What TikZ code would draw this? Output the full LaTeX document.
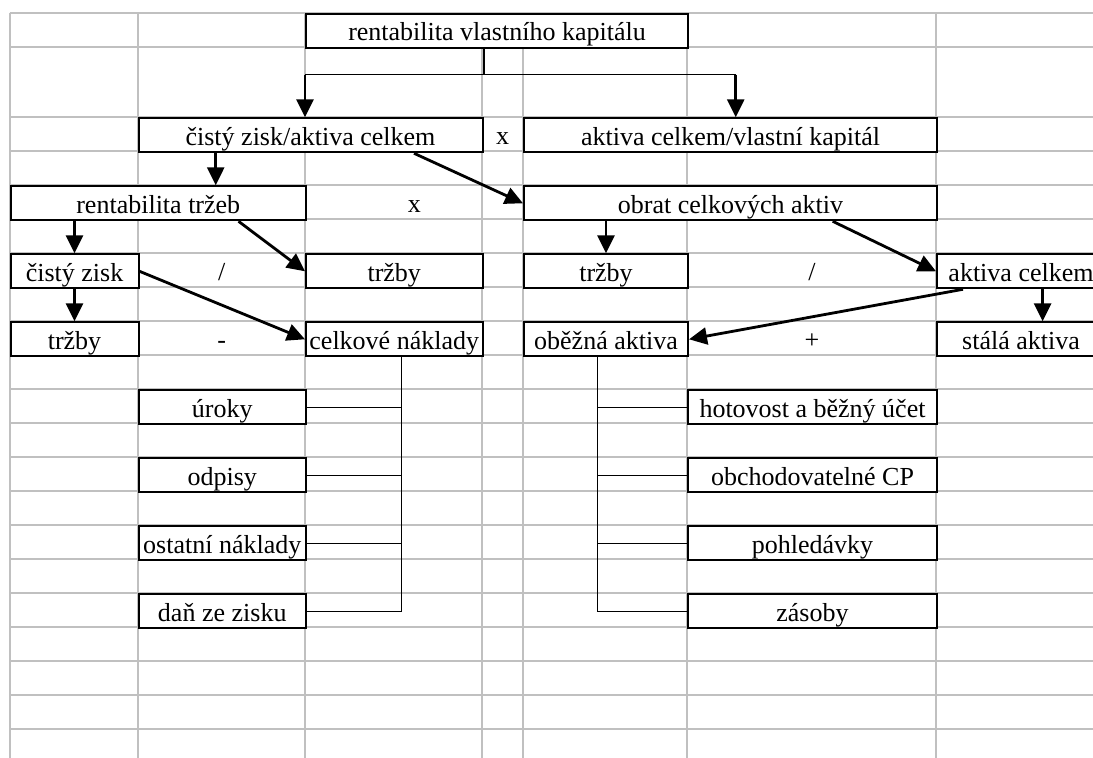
\documentclass[tikz,border=0pt]{standalone}
\usepackage{fontspec}
\setmainfont{Liberation Serif}
\usetikzlibrary{arrows.meta,calc}
\definecolor{gridgray}{HTML}{C0C0C0}
\tikzset{
  gridline/.style={draw=gridgray, line width=1pt},
  cellbox/.style={draw, fill=white, line width=1pt, anchor=north west, minimum height=17pt, inner sep=0pt, text height=10.3pt, text depth=0pt},
  op/.style={anchor=north west, minimum height=17pt, inner sep=0pt, text height=10.3pt, text depth=0pt},
  wd/.style={minimum width=#1*0.5pt},
  arr/.style={-{Triangle[length=9pt,width=8.5pt]}, line width=1.4pt},
  link/.style={line width=0.6pt}
}
\begin{document}
\begin{tikzpicture}[x=0.5pt,y=-0.5pt,font=\fontsize{13pt}{15pt}\selectfont]
    \useasboundingbox (0,0) rectangle (1093,758);
    \clip (0,0) rectangle (1093,758);
    \foreach \x in {9.5,137.5,305,481.5,523,687,936} \draw[gridline] (\x,12.7) -- (\x,758);
    \foreach \y in {12.7,46.7} \draw[gridline] (9.5,\y) -- (1093,\y);
    \foreach \k [evaluate=\k as \y using 117.3+34*\k] in {0,...,18} \draw[gridline] (9.5,\y) -- (1093,\y);
    \node[cellbox, wd=382] (roe) at (305,12.7) {rentabilita vlastního kapitálu};
    \node[cellbox, wd=344] (cza) at (137.5,117.3) {čistý zisk/aktiva celkem};
    \node[op, wd=41.5] (x1) at (481.5,117.3) {x};
    \node[cellbox, wd=413] (akvk) at (523,117.3) {aktiva celkem/vlastní kapitál};
    \node[cellbox, wd=295.5] (rt) at (9.5,185.3) {rentabilita tržeb};
    \node[op, wd=218] (x2) at (305,185.3) {x};
    \node[cellbox, wd=413] (oca) at (523,185.3) {obrat celkových aktiv};
    \node[cellbox, wd=128] (cz) at (9.5,253.3) {čistý zisk};
    \node[op, wd=167.5] (d1) at (137.5,253.3) {/};
    \node[cellbox, wd=176.5] (trz1) at (305,253.3) {tržby};
    \node[cellbox, wd=164] (trz2) at (523,253.3) {tržby};
    \node[op, wd=249] (d2) at (687,253.3) {/};
    \node[cellbox, wd=168] (ac) at (936,253.3) {aktiva celkem};
    \node[cellbox, wd=128] (trz3) at (9.5,321.3) {tržby};
    \node[op, wd=167.5] (minus) at (137.5,321.3) {-};
    \node[cellbox, wd=176.5] (cn) at (305,321.3) {celkové náklady};
    \node[cellbox, wd=164] (oa) at (523,321.3) {oběžná aktiva};
    \node[op, wd=249] (plus) at (687,321.3) {+};
    \node[cellbox, wd=168] (sa) at (936,321.3) {stálá aktiva};
    \foreach \n/\t [count=\i from 0, evaluate=\i as \y using 389.3+68*\i] in {ur/úroky,odp/odpisy,ost/ostatní náklady,dan/daň ze zisku}
      \node[cellbox, wd=167.5] (\n) at (137.5,\y) {\t};
    \foreach \n/\t [count=\i from 0, evaluate=\i as \y using 389.3+68*\i] in {hot/hotovost a běžný účet,obch/obchodovatelné CP,pohl/pohledávky,zas/zásoby}
      \node[cellbox, wd=249] (\n) at (687,\y) {\t};
    \coordinate (jn) at (484,74.7);
    \coordinate (jl) at (305,74.7);
    \coordinate (jr) at (735.7,74.7);
    \draw[link] (roe.south -| jn) -- (jn);
    \draw[link] (jl) -- (jr);
    \draw[arr] (jl) -- (cza.north -| jl);
    \draw[arr] (jr) -- (akvk.north -| jr);
    \draw[arr] ($(cza.south west)+(78.2,0)$) coordinate (a1) -- (a1 |- rt.north);
    \draw[arr] ($(cza.south west)+(276.5,0)$) -- (oca.west);
    \draw[arr] (rt.south -| cz.north) -- (cz.north);
    \draw[arr] ($(rt.south west)+(229,0)$) -- (trz1.west);
    \draw[arr] (oca.south -| trz2.north) -- (trz2.north);
    \draw[arr] ($(oca.south west)+(309.7,0)$) -- (ac.west);
    \draw[arr] (cz.south) -- (trz3.north);
    \draw[arr] (cz.east) -- (cn.west);
    \draw[arr] ($(ac.south west)+(106.6,0)$) coordinate (a2) -- (a2 |- sa.north);
    \draw[arr] ($(ac.south west)+(27,0)$) -- (oa.east);
    \coordinate (cnx) at ($(cn.south west)+(96.7,0)$);
    \draw[link] (cnx) |- (dan.east);
    \foreach \n in {ur,odp,ost} \draw[link] (\n.east) -- (\n.east -| cnx);
    \coordinate (oax) at ($(oa.south west)+(74.3,0)$);
    \draw[link] (oax) |- (zas.west);
    \foreach \n in {hot,obch,pohl} \draw[link] (\n.west) -- (\n.west -| oax);
  \end{tikzpicture}
\end{document}
